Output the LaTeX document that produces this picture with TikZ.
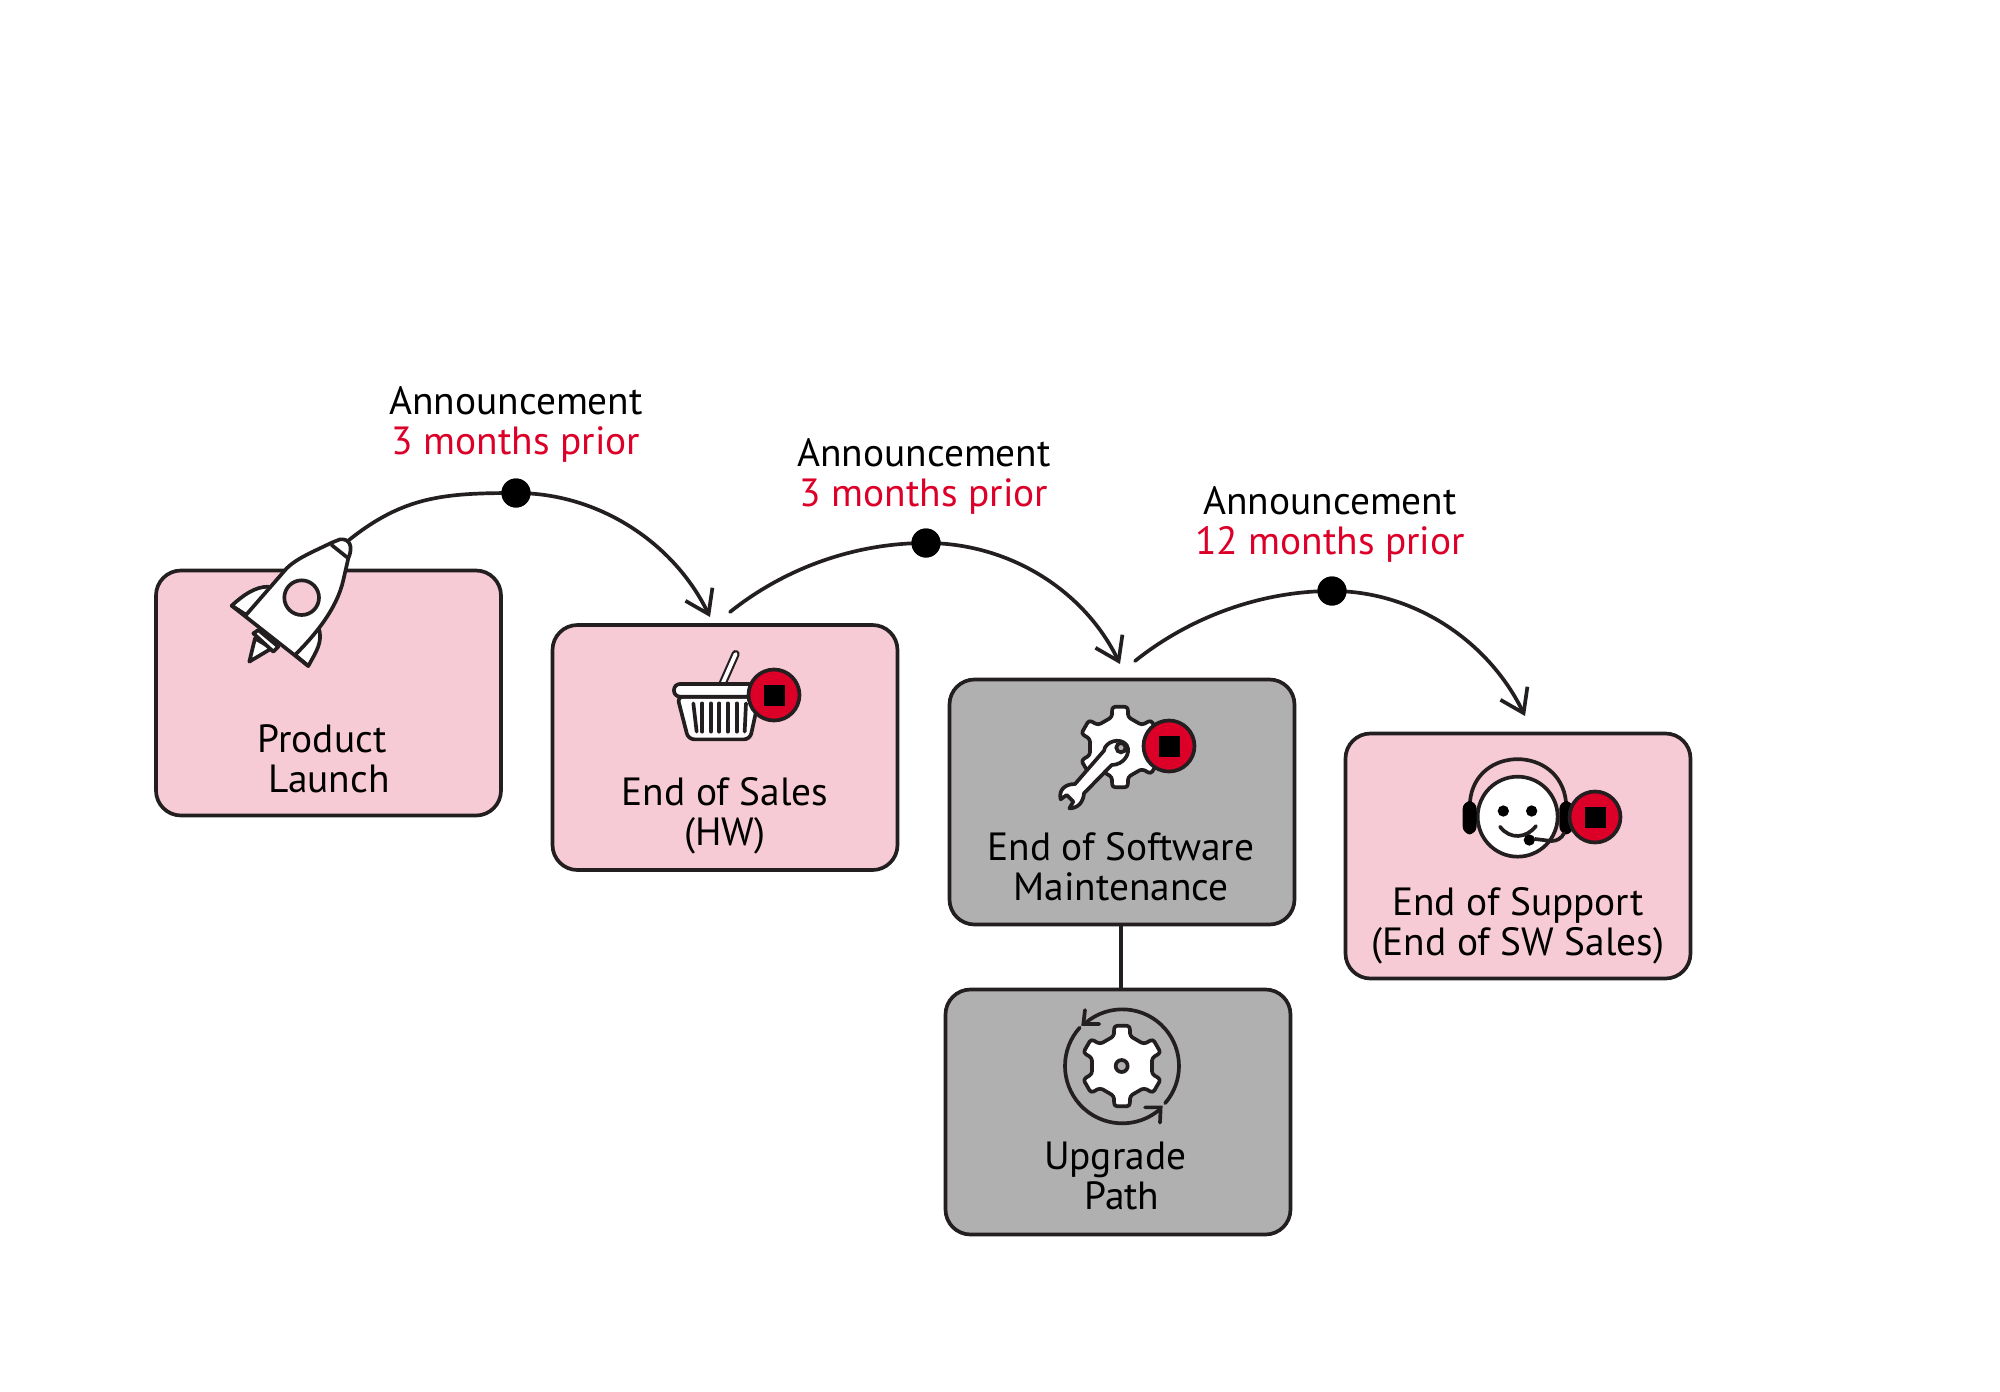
\documentclass[tikz,border=0pt]{standalone}
\usepackage{fontspec}
\usetikzlibrary{arrows.meta}
\setmainfont{PT Sans}
\definecolor{inkline}{HTML}{231F20}
\definecolor{boxpink}{HTML}{F7CBD5}
\definecolor{boxgrey}{HTML}{B0B0B0}
\definecolor{stopred}{HTML}{DC0028}
\tikzset{
    inkpen/.style={draw=inkline,line width=1.05pt},
    box/.style={inkpen,rounded corners=2.5mm,minimum width=34.5cm/10,minimum height=24.5cm/10},
    pinkbox/.style={box,fill=boxpink},
    greybox/.style={box,fill=boxgrey},
    caption/.style={align=center,font=\fontsize{11.2}{11.4}\selectfont,inner sep=0pt},
    stopdot/.style={circle,inkpen,fill=stopred,inner sep=0pt,minimum size=5.1mm},
    stopsquare/.style={fill=black,inner sep=0pt,minimum size=2.1mm},
    markdot/.style={circle,fill=black,inner sep=0pt,minimum size=2.9mm},
    icon/.style={inkpen,fill=white,line join=round},
    gearicon/.pic={
        \path[icon,rounded corners=.3mm] (-105:31) \foreach \a in {-90,-30,...,210}{ -- (\a-15:31) -- (\a-11:41) -- (\a+11:41) -- (\a+15:31) } -- cycle;
    }
}
\begin{document}
\begin{tikzpicture}[x=.1mm,y=-.1mm,>={Straight Barb[length=2.2mm,width=3mm]},line cap=round]
    \useasboundingbox (0,0) rectangle (2000,1392);
    \node[pinkbox] (launch) at (328.5,693) {};
    \node[pinkbox] (sales) at (725,747.5) {};
    \node[greybox] (maint) at (1122,802) {};
    \node[pinkbox] (support) at (1518,856) {};
    \node[greybox] (upgrade) at (1118,1112) {};
    \draw[inkpen] (maint.south) ++(-1,0) -- (1121,989);

    \node[caption] (launchtext) at (329,759) {Product\kern.35em\\Launch};
    \node[caption] (salestext) at (725,816) {End of Sales\\(HW)};
    \node[caption] (mainttext) at (1121,867) {End of Software\\Maintenance};
    \node[caption] (supporttext) at (1518,926) {End of Support\\(End of SW Sales)};
    \node[caption] (upgradetext) at (1122,1176) {Upgrade\kern.35em\\Path};

    \node[caption] (notea) at (516,424) {Announcement\\\textcolor{stopred}{3 months prior}};
    \node[caption] (noteb) at (924,476) {Announcement\\\textcolor{stopred}{3 months prior}};
    \node[caption] (notec) at (1330,524) {Announcement\\\textcolor{stopred}{12 months prior}};

    % the arcs
    \node[markdot] (dota) at (516,493) {};
    \node[markdot] (dotb) at (926,543) {};
    \node[markdot] (dotc) at (1332,591) {};
    \coordinate (outa) at (349,540);
    \coordinate (ina) at (710,617);
    \coordinate (outb) at (730,612);
    \coordinate (inb) at (1120,664);
    \coordinate (outc) at (1135,661);
    \coordinate (inc) at (1525,716);
    \foreach \dotname/\from/\to in {dota/outa/ina,dotb/outb/inb,dotc/outc/inc}{
        \draw[inkpen] (\from) .. controls +(55,-44) and +(-71,0) .. (\dotname.center);
        \draw[->,inkpen] (\dotname.center) .. controls +(83,0) and +(-36,-74) .. (\to);
    }
    \node[markdot] at (dota) {};
    \node[markdot] at (dotb) {};
    \node[markdot] at (dotc) {};

    % rocket
    \begin{scope}[shift={(140,370)},scale=1/3]
        \path[icon] (275,707) .. controls (310,675) and (345,650) .. (385,650) -- (400,700) -- (318,735) -- cycle;
        \path[icon] (505,888) .. controls (525,850) and (552,815) .. (535,772) -- (480,790) -- (465,855) -- cycle;
        \path[icon] (345,805) -- (328,875) -- (395,835) -- cycle;
        \path[icon] (340,790) -- (355,780) -- (415,830) -- (400,845) -- cycle;
        \path[icon] (275,707) -- (505,888) -- (465,855) .. controls (520,800) and (590,720) .. (610,630) -- (625,565)
            .. controls (640,530) and (630,505) .. (600,508) -- (575,518) .. controls (520,545) and (470,565) .. (440,595)
            -- (318,735) -- cycle;
        \draw[inkpen] (575,525) -- (625,565);
        \draw[inkpen,fill=boxpink] (485,683) circle (52);
    \end{scope}

    % basket
    \begin{scope}[shift={(640,640)},scale=1/3]
        \draw[draw=inkline,line width=2.3pt] (248,130) -- (287,42);
        \draw[draw=white,line width=1.1pt] (248,130) -- (287,42);
        \path[icon,rounded corners=.6mm] (112,170) -- (145,298) -- (330,298) -- (358,170) -- cycle;
        \path[icon,rounded corners=.6mm] (102,132) rectangle (345,170);
        \foreach \tx/\bx in {160/170,187/187,213/213,238/238,263/263,290/290,318/314}{
            \draw[inkpen] (\tx,190) -- (\bx,275);
        }
    \end{scope}
    \node[stopdot] (stopa) at (774,695) {};
    \node[stopsquare] at (stopa) {};

    % gear and wrench
    \pic at (1120,747) {gearicon};
    \begin{scope}[shift={(1020,680)},scale=1/3]
        \path[icon] (252,212) .. controls (255,185) and (300,170) .. (320,195)
            .. controls (335,220) and (310,255) .. (275,255) -- (192,340)
            .. controls (190,365) and (175,385) .. (148,385) -- (160,365) -- (140,345) -- (122,358)
            .. controls (115,330) and (135,312) .. (165,312) -- cycle;
        \draw[inkpen,fill=boxgrey] (303,203) circle (14);
    \end{scope}
    \node[stopdot] (stopb) at (1169,746) {};
    \node[stopsquare] at (stopb) {};

    % headset
    \begin{scope}[shift={(1420,740)},scale=1/3]
        \draw[inkpen] (150,185) .. controls (165,15) and (420,15) .. (438,185);
        \draw[icon] (293,230) circle (120);
        \fill[black,rounded corners=.8mm] (128,183) rectangle (170,283);
        \fill[black,rounded corners=.8mm] (418,183) rectangle (460,283);
        \fill[black] (250,213) circle (17) (335,213) circle (17) (328,300) circle (17);
        \draw[inkpen] (240,260) .. controls (270,300) and (320,295) .. (348,258);
        \draw[inkpen] (345,297) -- (395,303) .. controls (410,303) and (425,295) .. (432,280);
    \end{scope}
    \node[stopdot] (stopc) at (1595,817) {};
    \node[stopsquare] at (stopc) {};

    % upgrade gear
    \pic at (1122,1066) {gearicon};
    \begin{scope}[shift={(1030,990)},scale=1/3]
        \draw[inkpen,fill=boxgrey] (275,228) circle (18);
        \draw[inkpen] (277,228) ++(-131:170) arc (-131:41:170);
        \draw[inkpen] (277,228) ++(48:172) arc (48:222:172);
        \draw[inkpen] (165,60) -- (160,102) -- (208,102);
        \draw[inkpen] (345,352) -- (392,352) -- (390,398);
    \end{scope}
\end{tikzpicture}
\end{document}
